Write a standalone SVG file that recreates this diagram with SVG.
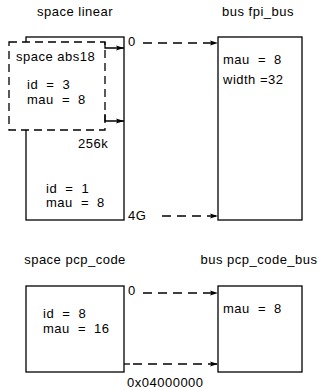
<svg xmlns="http://www.w3.org/2000/svg" width="321" height="390" viewBox="0 0 321 390">
<style>
text{font-family:"Liberation Sans",Arial,sans-serif;font-size:13px;letter-spacing:0.5px;fill:#000}
.eq{word-spacing:4px}
.c{text-anchor:middle}
.box{fill:#fff;stroke:#000;stroke-width:1.3}
.dbox{fill:#fff;stroke:#000;stroke-width:1.3;stroke-dasharray:8,5}
.ln{fill:none;stroke:#000;stroke-width:1.3}
.dl{fill:none;stroke:#000;stroke-width:1.3;stroke-dasharray:9,6}
</style>
<defs>
<marker id="ah" markerWidth="8" markerHeight="6" refX="8" refY="3" orient="auto" markerUnits="userSpaceOnUse">
<path d="M0,0.5 L8,3 L0,5.5 L1.5,3 z" fill="#000"/>
</marker>
</defs>
<g id="space-linear">
<text class="c" x="75" y="16">space linear</text>
<rect class="box" x="26" y="37" width="98" height="183"/>
<text class="eq" x="46" y="193">id = 1</text>
<text class="eq" x="46" y="207">mau = 8</text>
<text x="78" y="148">256k</text>
<text x="128" y="46">0</text>
<text x="128" y="220">4G</text>
</g>
<g id="space-abs18">
<rect class="dbox" x="9" y="42" width="96" height="88"/>
<text x="16" y="61">space abs18</text>
<text class="eq" x="27" y="89">id = 3</text>
<text class="eq" x="27" y="104">mau = 8</text>
</g>
<g id="bus-fpi_bus">
<text class="c" x="258" y="16">bus fpi_bus</text>
<rect class="box" x="218" y="37" width="84" height="183"/>
<text class="eq" x="223" y="64">mau = 8</text>
<text x="223" y="84">width =32</text>
</g>
<g id="space-pcp_code">
<text class="c" x="75" y="264">space pcp_code</text>
<rect class="box" x="26" y="286" width="98" height="86"/>
<text class="eq" x="43" y="318">id = 8</text>
<text class="eq" x="43" y="333">mau = 16</text>
<text x="128" y="295">0</text>
<text x="127" y="387">0x04000000</text>
</g>
<g id="bus-pcp_code_bus">
<text class="c" x="259" y="264">bus pcp_code_bus</text>
<rect class="box" x="218" y="286" width="84" height="86"/>
<text class="eq" x="223" y="313">mau = 8</text>
</g>
<g id="connectors">
<path class="ln" d="M105,42 V48 H124" marker-end="url(#ah)"/>
<path class="ln" d="M105,114 V121 H124" marker-end="url(#ah)"/>
<path class="dl" d="M143,43 H218" marker-end="url(#ah)"/>
<path class="dl" d="M162,216 H218" marker-end="url(#ah)"/>
<path class="dl" d="M143,293 H218" marker-end="url(#ah)"/>
<path class="ln" d="M124,364 H130"/>
<path class="dl" d="M133,364 H218" marker-end="url(#ah)"/>
</g>
</svg>
